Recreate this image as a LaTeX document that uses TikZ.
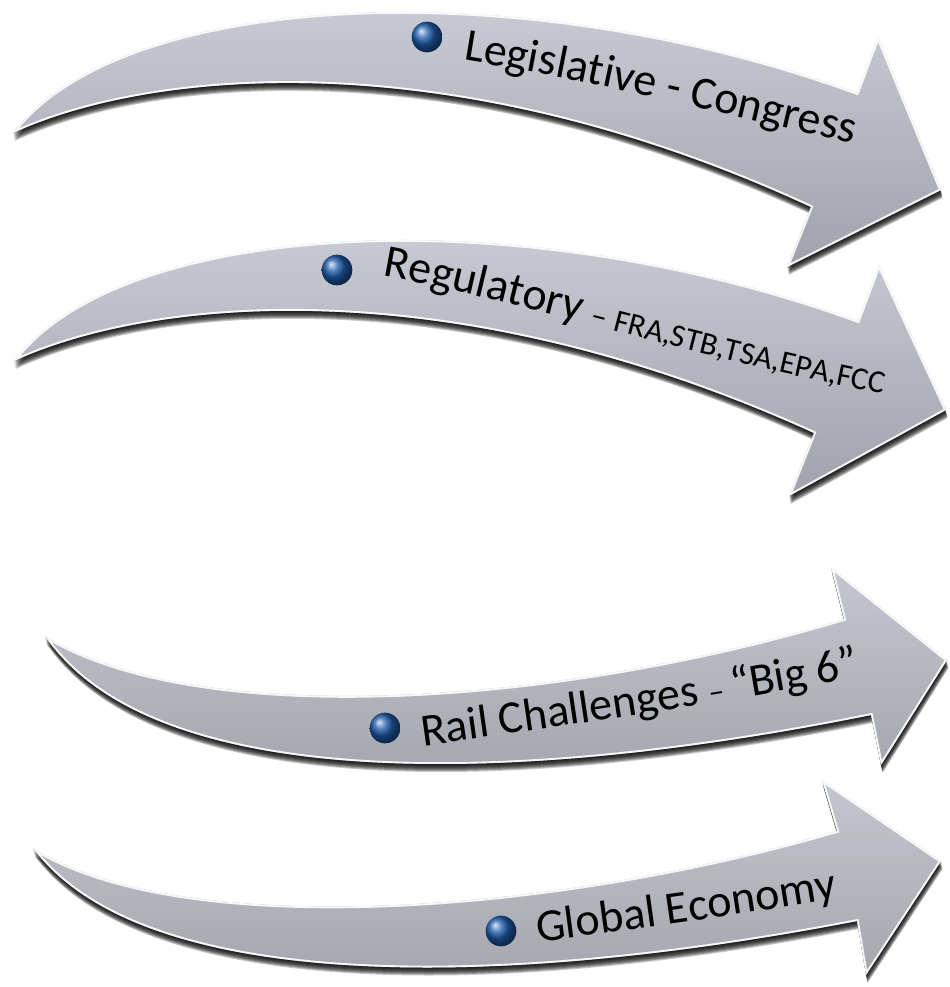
\documentclass[tikz,border=0pt]{standalone}
\usepackage{fontspec}
\setmainfont{Carlito}
\usetikzlibrary{decorations.text}

\definecolor{armTopA}{HTML}{CDD0D9}
\definecolor{armBotA}{HTML}{A0A3AC}
\definecolor{armTopB}{HTML}{C4C7CF}
\definecolor{armBotB}{HTML}{A2A4AC}
\definecolor{bulletblue}{HTML}{1F5BAA}

\newcommand\labelfont{\fontsize{34.5}{40}\selectfont}
\newcommand\minorfont{\fontsize{24}{28}\selectfont}

% outlines of the four curved arrows (pixel grid, y downwards)
\def\arrowA{(13,133) .. controls (120,-10) and (520,-30) .. (857,93) -- (878,37) -- (941,190) -- (787,267) -- (811,207) .. controls (450,40) and (150,70) .. (13,133) -- cycle}
\def\arrowB{(14,361) .. controls (121,218) and (521,198) .. (858,321) -- (879,265) -- (946,410) -- (789,496) -- (814,433) .. controls (451,268) and (151,298) .. (14,361) -- cycle}
\def\arrowC{(45,636) .. controls (200,730) and (560,705) .. (844,619) -- (831,567) -- (947,660) -- (881,765) -- (871,715) .. controls (500,790) and (150,790) .. (45,636) -- cycle}
\def\arrowD{(33,848) .. controls (180,940) and (550,915) .. (837,831) -- (822,780) -- (941,861) -- (866,975) -- (857,921) .. controls (490,992) and (140,992) .. (33,848) -- cycle}

\tikzset{
  shadowlayer/.style={fill=black, fill opacity=0.22},
  downarm/.style={top color=armTopA, bottom color=armBotA},
  uparm/.style={top color=armTopB, bottom color=armBotB},
  rim/.style={draw=white, line width=2.8pt, draw opacity=0.9},
  bulletball/.style={circle, inner sep=0pt, minimum size=23pt, shading=ball, ball color=bulletblue},
  caption/.style={decorate, decoration={text along path, text align=left, text={#1}}}
}

\begin{document}
\begin{tikzpicture}[x=0.75pt, y=-0.75pt]
  \useasboundingbox (0,0) rectangle (949,987);
  \fill[white] (0,0) rectangle (949,987);

  % soft shadows under every arrow
  \foreach \k in {1,...,8} {
    \fill[shadowlayer, shift={(0.2*\k,\k)}] \arrowA;
    \fill[shadowlayer, shift={(0.2*\k,\k)}] \arrowB;
    \fill[shadowlayer, shift={(0.2*\k,\k)}] \arrowC;
    \fill[shadowlayer, shift={(0.2*\k,\k)}] \arrowD;
  }

  % arrow bodies with a light rim inside the outline
  \shade[downarm] \arrowA;
  \begin{scope} \clip \arrowA; \draw[rim] \arrowA; \end{scope}
  \shade[downarm] \arrowB;
  \begin{scope} \clip \arrowB; \draw[rim] \arrowB; \end{scope}
  \shade[uparm] \arrowC;
  \begin{scope} \clip \arrowC; \draw[rim] \arrowC; \end{scope}
  \shade[uparm] \arrowD;
  \begin{scope} \clip \arrowD; \draw[rim] \arrowD; \end{scope}

  % bullets
  \node[bulletball] (b1) at (427,37) {};
  \node[bulletball] (b2) at (337,270) {};
  \node[bulletball] (b3) at (385,728) {};
  \node[bulletball] (b4) at (501,931) {};

  % captions set along the arrows
  \path[caption={|\labelfont|Legislative - Congress}]
    (463,60) .. controls (600,82) and (750,120) .. (890,152) -- (1000,178);
  \path[caption={|\labelfont|Regulatory |\minorfont|– FRA,STB,TSA,EPA,FCC}]
    (382,276) .. controls (520,300) and (700,360) .. (895,396) -- (1000,418);
  \path[caption={|\labelfont|Rail Challenges |\minorfont|– |\labelfont|“Big 6”}]
    (423,746) .. controls (550,728) and (750,700) .. (880,672) -- (1000,645);
  \path[caption={|\labelfont|Global Economy}]
    (538,942) .. controls (640,929) and (760,912) .. (850,896) -- (1000,870);
\end{tikzpicture}
\end{document}
